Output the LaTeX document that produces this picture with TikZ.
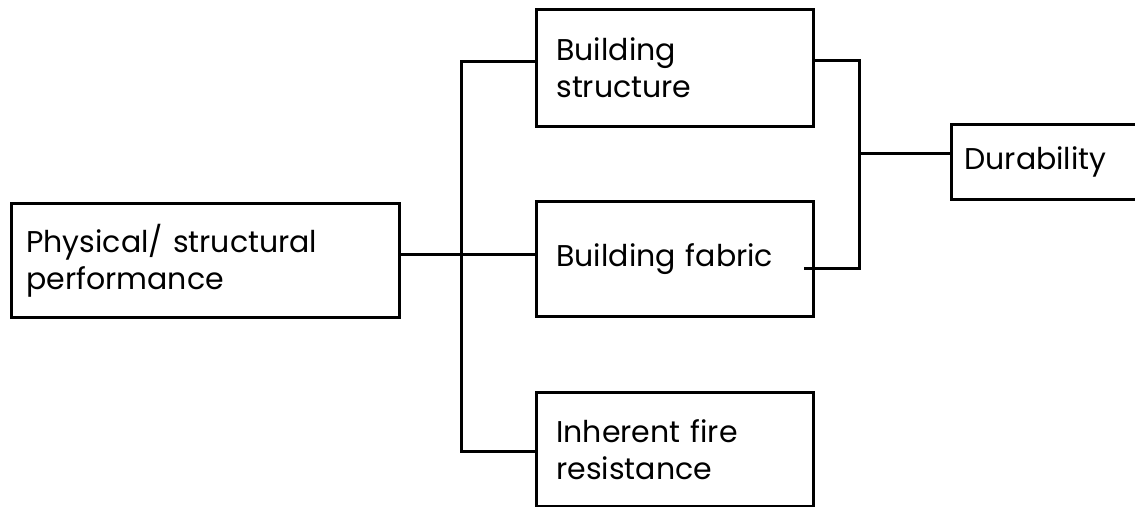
\documentclass[tikz,border=0pt]{standalone}
\usepackage{fontspec}
\setmainfont{Poppins}
\begin{document}
\begin{tikzpicture}[x=1pt,y=-1pt, line width=2.8pt,
  box/.style={draw, anchor=north west, align=left,
    inner ysep=0pt, font=\fontsize{30}{37}\selectfont},
  wire/.style={draw, line width=3pt, line cap=rect}]
\clip (0,0) rectangle (1135,506);
\fill[white] (0,0) rectangle (1135,506);
% boxes with their labels
\node[box, inner xsep=15pt, text width=358pt, minimum height=114pt] (phys) at (10,202)
  {Physical/ structural\\performance};
\node[box, inner xsep=20pt, text width=237pt, minimum height=117pt] (struct) at (535,8)
  {Building\\structure};
\node[box, inner xsep=20pt, text width=237pt, minimum height=115pt] (fabric) at (535,200)
  {Building fabric};
\node[box, inner xsep=20pt, text width=237pt, minimum height=114pt] (fire) at (535,391)
  {Inherent fire\\resistance};
\node[box, inner xsep=13pt, text width=174pt, minimum height=75pt] (dur) at (950,123)
  {Durability};
% connectors
\coordinate (busTop) at (461.5,61.5);
\coordinate (busBot) at (461.5,451.5);
\coordinate (joinTop) at (859.5,60.5);
\coordinate (joinBot) at (859.5,268.5);
\coordinate (fabIn) at (805,268.5);
\coordinate (joinMid) at (859.5,153.5);
\path[wire] (phys.east |- 0,254.5) -- (fabric.west |- 0,254.5);
\path[wire] (struct.west |- busTop) -- (busTop) -- (busBot) -- (fire.west |- busBot);
\path[wire] (struct.east |- joinTop) -- (joinTop) -- (joinBot) -- (fabIn);
\path[wire] (joinMid) -- (dur.west |- joinMid);
\end{tikzpicture}
\end{document}
